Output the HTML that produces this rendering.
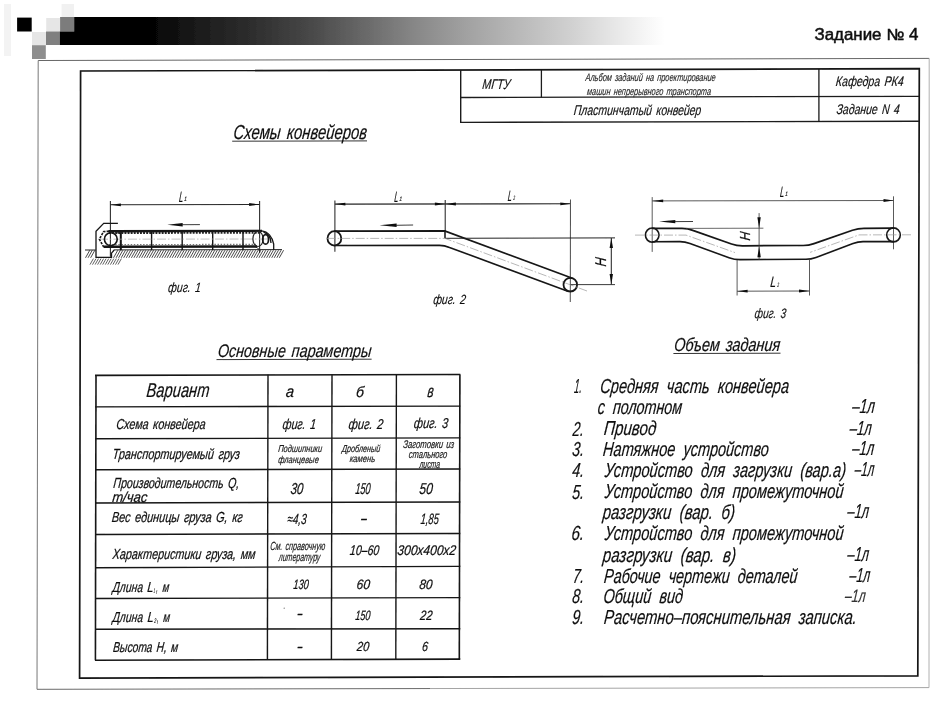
<!DOCTYPE html>
<html lang="ru">
<head>
<meta charset="utf-8">
<title>Задание № 4</title>
<style>
html,body{margin:0;padding:0;background:#fff;}
body{width:940px;height:701px;overflow:hidden;font-family:'Liberation Sans', sans-serif;}
svg{display:block;}
svg text{font-family:"Liberation Sans",sans-serif;white-space:pre;}
</style>
</head>
<body>
<svg width="940" height="701" viewBox="0 0 940 701">
<defs>
<linearGradient id="barg" gradientUnits="userSpaceOnUse" x1="60" y1="0" x2="665" y2="0">
<stop offset="0.000" stop-color="#000"/>
<stop offset="0.149" stop-color="#030303"/>
<stop offset="0.231" stop-color="#1c1c1c"/>
<stop offset="0.319" stop-color="#2e2e2e"/>
<stop offset="0.407" stop-color="#464646"/>
<stop offset="0.496" stop-color="#666666"/>
<stop offset="0.583" stop-color="#868686"/>
<stop offset="0.671" stop-color="#a1a1a1"/>
<stop offset="0.759" stop-color="#b9b9b9"/>
<stop offset="0.846" stop-color="#d1d1d1"/>
<stop offset="0.917" stop-color="#e7e7e7"/>
<stop offset="0.975" stop-color="#f8f8f8"/>
<stop offset="1.000" stop-color="#ffffff"/>
</linearGradient>
<filter id="soft" x="0" y="0" width="940" height="701" filterUnits="userSpaceOnUse"><feGaussianBlur stdDeviation="0.4"/></filter>
</defs>
<rect width="940" height="701" fill="#ffffff"/>
<g id="page" filter="url(#soft)">
<g id="shapes" stroke-linecap="butt">
<rect x="4" y="4" width="7.00" height="52.00" fill="#f3f3f3"/>
<rect x="61.6" y="4" width="12.40" height="13.00" fill="#f1f1f1"/>
<rect x="17.1" y="17.6" width="14.60" height="13.90" fill="#000"/>
<rect x="46.2" y="18" width="13.90" height="13.50" fill="#e6e6e6"/>
<rect x="60.1" y="17" width="14.10" height="14.50" fill="#7c7c7c"/>
<rect x="32" y="32" width="14.00" height="13.00" fill="#e6e6e6"/>
<rect x="46" y="31.5" width="13.80" height="13.50" fill="#808080"/>
<rect x="32" y="45.2" width="13.80" height="13.80" fill="#8e8e8e"/>
<path d="M74.2,17 L666,17 L666,44.9 L59.8,44.9 L59.8,31.5 L74.2,31.5 Z" fill="url(#barg)"/>
<line x1="38.20" y1="60.50" x2="929.20" y2="58.40" stroke="#666" stroke-width="1.0" />
<line x1="38.20" y1="60.50" x2="37.00" y2="689.30" stroke="#777" stroke-width="1.0" />
<line x1="37.00" y1="689.30" x2="430.00" y2="688.55" stroke="#6a6a6a" stroke-width="1.0" />
<line x1="430.00" y1="688.55" x2="929.00" y2="687.60" stroke="#a4a4a4" stroke-width="1.0" />
<line x1="929.20" y1="58.40" x2="929.00" y2="687.60" stroke="#b0b0b0" stroke-width="1.0" />
<polygon points="80.60,71.00 919.30,68.70 917.80,675.80 79.60,678.10" fill="none" stroke="#151515" stroke-width="1.7" />
<line x1="460.70" y1="70.00" x2="460.70" y2="122.40" stroke="#1a1a1a" stroke-width="1.4" />
<line x1="460.00" y1="97.50" x2="919.00" y2="96.30" stroke="#1a1a1a" stroke-width="1.3" />
<line x1="460.00" y1="122.40" x2="919.00" y2="121.20" stroke="#1a1a1a" stroke-width="1.4" />
<line x1="541.40" y1="69.80" x2="541.40" y2="97.30" stroke="#1a1a1a" stroke-width="1.3" />
<line x1="818.90" y1="69.00" x2="818.90" y2="121.50" stroke="#1a1a1a" stroke-width="1.3" />
<line x1="232.20" y1="141.20" x2="367.00" y2="140.90" stroke="#333" stroke-width="1.0" />
<line x1="216.50" y1="359.60" x2="371.60" y2="359.20" stroke="#333" stroke-width="1.0" />
<line x1="673.40" y1="353.50" x2="780.50" y2="353.20" stroke="#333" stroke-width="1.0" />
<line x1="110.40" y1="204.80" x2="259.60" y2="204.50" stroke="#262626" stroke-width="1.05" />
<line x1="110.40" y1="201.00" x2="110.40" y2="256.80" stroke="#262626" stroke-width="1.05" />
<line x1="259.60" y1="201.00" x2="259.60" y2="253.00" stroke="#262626" stroke-width="1.05" />
<polygon points="110.40,204.80 120.90,203.40 120.90,206.20" fill="#111"/>
<polygon points="259.60,204.50 249.10,205.90 249.10,203.10" fill="#111"/>
<polygon points="167.30,224.70 182.70,222.90 182.70,226.50" fill="#111"/>
<line x1="182.00" y1="224.70" x2="199.90" y2="224.60" stroke="#262626" stroke-width="0.9" />
<polyline points="117.90,223.40 103.70,223.40 96.00,231.30 96.00,257.40 111.50,257.40 111.50,253.20 114.20,250.00" fill="none" stroke="#151515" stroke-width="1.3" />
<line x1="108.50" y1="231.20" x2="262.00" y2="230.90" stroke="#151515" stroke-width="2.4" />
<line x1="109.00" y1="233.00" x2="261.00" y2="232.70" stroke="#222" stroke-width="2.0" stroke-dasharray="1.9 1.2"/>
<line x1="104.00" y1="246.70" x2="257.00" y2="246.50" stroke="#151515" stroke-width="2.6" />
<line x1="109.00" y1="244.60" x2="256.00" y2="244.40" stroke="#777" stroke-width="1.2" stroke-dasharray="1.5 1.6"/>
<line x1="85.00" y1="250.00" x2="96.00" y2="250.00" stroke="#262626" stroke-width="1.0" />
<line x1="114.00" y1="249.90" x2="282.00" y2="249.60" stroke="#262626" stroke-width="1.0" />
<line x1="120.80" y1="231.00" x2="120.80" y2="250.20" stroke="#151515" stroke-width="2.0" />
<line x1="151.60" y1="231.00" x2="151.60" y2="250.20" stroke="#151515" stroke-width="1.4" />
<line x1="182.20" y1="231.00" x2="182.20" y2="250.20" stroke="#151515" stroke-width="1.4" />
<line x1="212.70" y1="231.00" x2="212.70" y2="250.20" stroke="#151515" stroke-width="1.4" />
<line x1="243.00" y1="231.00" x2="243.00" y2="250.20" stroke="#151515" stroke-width="1.4" />
<line x1="99.00" y1="239.20" x2="271.00" y2="239.00" stroke="#a8a8a8" stroke-width="0.7" stroke-dasharray="9 2 1.5 2"/>
<circle cx="110.8" cy="239.2" r="6.4" fill="none" stroke="#151515" stroke-width="1.6"/>
<polyline points="109.00,231.20 103.60,231.60 99.30,239.20 103.60,246.80 109.00,246.60" fill="none" stroke="#151515" stroke-width="1.6" stroke-dasharray="2.4 1.1" stroke-linejoin="round"/>
<polyline points="120.80,232.50 116.50,233.00" fill="none" stroke="#262626" stroke-width="1.0" />
<ellipse cx="258.0" cy="238.9" rx="5.1" ry="7.6" fill="none" stroke="#222" stroke-width="1.2"/>
<ellipse cx="265.6" cy="239.4" rx="2.9" ry="4.8" fill="none" stroke="#151515" stroke-width="1.7"/>
<path d="M261.5,230.9 C268,231.5 272.6,237 273.7,244.2 L273.7,250" fill="none" stroke="#151515" stroke-width="1.3" />
<path d="M263.5,232.2 C268,233.6 270.8,237.5 271.0,243" fill="none" stroke="#151515" stroke-width="1.3" />
<path d="M255,246.6 L258.5,248.6 L259.8,252" fill="none" stroke="#262626" stroke-width="0.9" />
<path d="M85.5,257.8 L89.8,250.2 M88.0,257.8 L92.3,250.2 M90.6,257.8 L94.9,250.2 M113.5,257.8 L117.8,250.2 M116.1,257.8 L120.4,250.2 M118.6,257.8 L122.9,250.2 M121.2,257.8 L125.5,250.2 M123.7,257.8 L128.0,250.2 M126.3,257.8 L130.6,250.2 M128.8,257.8 L133.1,250.2 M131.4,257.8 L135.7,250.2 M133.9,257.8 L138.2,250.2 M136.5,257.8 L140.8,250.2 M139.1,257.8 L143.4,250.2 M141.6,257.8 L145.9,250.2 M144.2,257.8 L148.5,250.2 M146.7,257.8 L151.0,250.2 M149.3,257.8 L153.6,250.2 M151.8,257.8 L156.1,250.2 M154.4,257.8 L158.7,250.2 M156.9,257.8 L161.2,250.2 M159.5,257.8 L163.8,250.2 M162.0,257.8 L166.3,250.2 M164.6,257.8 L168.9,250.2 M167.1,257.8 L171.4,250.2 M169.7,257.8 L174.0,250.2 M172.2,257.8 L176.5,250.2 M174.8,257.8 L179.1,250.2 M177.3,257.8 L181.6,250.2 M179.9,257.8 L184.2,250.2 M182.4,257.8 L186.7,250.2 M185.0,257.8 L189.3,250.2 M187.5,257.8 L191.8,250.2 M190.1,257.8 L194.4,250.2 M192.6,257.8 L196.9,250.2 M195.2,257.8 L199.5,250.2 M197.7,257.8 L202.0,250.2 M200.3,257.8 L204.6,250.2 M202.8,257.8 L207.1,250.2 M205.4,257.8 L209.7,250.2 M207.9,257.8 L212.2,250.2 M210.5,257.8 L214.8,250.2 M213.0,257.8 L217.3,250.2 M215.6,257.8 L219.9,250.2 M218.1,257.8 L222.4,250.2 M220.7,257.8 L225.0,250.2 M223.2,257.8 L227.5,250.2 M225.8,257.8 L230.1,250.2 M228.3,257.8 L232.6,250.2 M230.9,257.8 L235.2,250.2 M233.4,257.8 L237.7,250.2 M236.0,257.8 L240.3,250.2 M238.5,257.8 L242.8,250.2 M241.1,257.8 L245.4,250.2 M243.6,257.8 L247.9,250.2 M246.2,257.8 L250.5,250.2 M248.7,257.8 L253.0,250.2 M251.3,257.8 L255.6,250.2 M253.8,257.8 L258.1,250.2 M256.4,257.8 L260.7,250.2 M258.9,257.8 L263.2,250.2 M261.5,257.8 L265.8,250.2 M264.0,257.8 L268.3,250.2 M266.6,257.8 L270.9,250.2 M269.1,257.8 L273.4,250.2 M271.7,257.8 L276.0,250.2 M274.2,257.8 L278.5,250.2 M276.8,257.8 L281.1,250.2 M279.3,257.8 L283.6,250.2" fill="none" stroke="#2a2a2a" stroke-width="0.85" />
<path d="M90.0,264.6 L93.4,258.6 M92.5,264.6 L96.0,258.6 M95.1,264.6 L98.5,258.6 M97.6,264.6 L101.0,258.6 M100.2,264.6 L103.6,258.6 M102.7,264.6 L106.1,258.6 M105.3,264.6 L108.7,258.6 M107.8,264.6 L111.2,258.6 M110.4,264.6 L113.8,258.6 M112.9,264.6 L116.3,258.6 M115.5,264.6 L118.9,258.6 M118.0,264.6 L121.4,258.6" fill="none" stroke="#3a3a3a" stroke-width="0.8" />
<line x1="334.90" y1="204.10" x2="570.80" y2="203.80" stroke="#262626" stroke-width="1.05" />
<line x1="334.90" y1="200.40" x2="334.90" y2="251.80" stroke="#262626" stroke-width="1.05" />
<line x1="445.20" y1="200.00" x2="445.20" y2="231.00" stroke="#262626" stroke-width="1.05" />
<line x1="570.50" y1="199.60" x2="570.30" y2="302.00" stroke="#555" stroke-width="1.05" />
<polygon points="334.90,204.10 345.40,202.70 345.40,205.50" fill="#111"/>
<polygon points="445.40,204.00 434.90,205.40 434.90,202.60" fill="#111"/>
<polygon points="445.40,204.00 455.90,202.60 455.90,205.40" fill="#111"/>
<polygon points="570.80,203.80 560.30,205.20 560.30,202.40" fill="#111"/>
<polygon points="379.60,225.30 396.60,223.50 396.60,227.10" fill="#111"/>
<line x1="396.00" y1="225.30" x2="413.10" y2="225.00" stroke="#262626" stroke-width="0.9" />
<ellipse cx="334.4" cy="238.4" rx="6.9" ry="7.2" fill="none" stroke="#151515" stroke-width="1.8"/>
<path d="M334.4,231.2 L444.6,230.9 L572.4,278.3" fill="none" stroke="#151515" stroke-width="1.7" stroke-linejoin="miter"/>
<path d="M334.4,245.5 L439.5,245.4 Q444.5,245.4 449.5,247.4 L567.8,291.2" fill="none" stroke="#151515" stroke-width="1.6" />
<line x1="445.00" y1="230.50" x2="445.00" y2="238.30" stroke="#151515" stroke-width="1.5" />
<line x1="445.00" y1="238.30" x2="615.00" y2="237.90" stroke="#222" stroke-width="1.0" />
<circle cx="570.3" cy="284.7" r="6.8" fill="none" stroke="#151515" stroke-width="1.8"/>
<path d="M326.7,238.4 L445,238.4 L587,291" fill="none" stroke="#999" stroke-width="0.7" stroke-dasharray="9 2 1.5 2"/>
<line x1="570.50" y1="284.60" x2="615.00" y2="284.60" stroke="#262626" stroke-width="0.9" />
<line x1="611.30" y1="238.00" x2="611.30" y2="284.60" stroke="#262626" stroke-width="1.05" />
<polygon points="611.30,237.90 613.00,247.90 609.60,247.90" fill="#111"/>
<polygon points="611.30,284.60 609.60,274.10 613.00,274.10" fill="#111"/>
<line x1="652.20" y1="200.90" x2="893.50" y2="200.50" stroke="#3c3c3c" stroke-width="0.85" />
<line x1="652.20" y1="197.10" x2="652.20" y2="251.90" stroke="#3c3c3c" stroke-width="0.85" />
<line x1="893.50" y1="196.30" x2="893.50" y2="249.30" stroke="#3c3c3c" stroke-width="0.85" />
<polygon points="652.20,200.90 663.20,199.50 663.20,202.30" fill="#111"/>
<polygon points="893.50,200.50 883.50,201.90 883.50,199.10" fill="#111"/>
<polygon points="659.10,221.60 675.30,219.90 675.30,223.30" fill="#111"/>
<line x1="675.00" y1="221.60" x2="693.00" y2="221.50" stroke="#262626" stroke-width="0.9" />
<ellipse cx="652.2" cy="235.1" rx="6.8" ry="7.1" fill="none" stroke="#151515" stroke-width="1.6"/>
<ellipse cx="893.5" cy="234.9" rx="6.8" ry="7.0" fill="none" stroke="#151515" stroke-width="1.6"/>
<path d="M652.2,228.4 L682,228.4 Q688,228.4 693.5,230.6 L731.5,244.0 Q737,245.9 743,245.8 L803,245.5 Q808.5,245.5 814,243.6 L852.5,230.3 Q858,228.4 864,228.3 L893.5,228.2" fill="none" stroke="#151515" stroke-width="1.7" />
<path d="M652.2,241.7 L680,241.6 Q685,241.6 690,243.4 L729,257.7 Q734.4,259.6 740,259.6 L806,259.3 Q811,259.3 816,257.5 L853,243.5 Q858,241.7 863,241.6 L893.5,241.6" fill="none" stroke="#151515" stroke-width="1.6" />
<path d="M635,235.1 L686,235.1 L735,252.6" fill="none" stroke="#999" stroke-width="0.7" stroke-dasharray="9 2 1.5 2"/>
<path d="M911,234.8 L859,234.9 L810,252.4" fill="none" stroke="#999" stroke-width="0.7" stroke-dasharray="9 2 1.5 2"/>
<line x1="686.00" y1="228.40" x2="763.40" y2="228.20" stroke="#444" stroke-width="0.8" />
<line x1="759.10" y1="213.10" x2="759.10" y2="260.00" stroke="#3c3c3c" stroke-width="0.85" />
<polygon points="759.10,228.20 757.40,217.20 760.80,217.20" fill="#111"/>
<polygon points="759.10,246.20 760.80,257.20 757.40,257.20" fill="#111"/>
<line x1="737.10" y1="259.80" x2="737.10" y2="295.50" stroke="#3c3c3c" stroke-width="0.85" />
<line x1="809.50" y1="259.60" x2="809.50" y2="295.50" stroke="#3c3c3c" stroke-width="0.85" />
<line x1="737.10" y1="291.20" x2="809.50" y2="291.00" stroke="#3c3c3c" stroke-width="0.85" />
<polygon points="737.10,291.20 747.60,289.80 747.60,292.60" fill="#111"/>
<polygon points="809.50,291.00 799.00,292.40 799.00,289.60" fill="#111"/>
<line x1="95.00" y1="375.40" x2="460.30" y2="374.50" stroke="#151515" stroke-width="1.6" />
<line x1="95.00" y1="406.90" x2="460.30" y2="406.10" stroke="#151515" stroke-width="1.4" />
<line x1="95.00" y1="438.80" x2="460.30" y2="437.90" stroke="#151515" stroke-width="1.4" />
<line x1="95.00" y1="469.80" x2="460.30" y2="469.00" stroke="#151515" stroke-width="1.4" />
<line x1="95.00" y1="503.00" x2="460.30" y2="502.00" stroke="#151515" stroke-width="1.4" />
<line x1="95.00" y1="534.50" x2="460.30" y2="533.50" stroke="#151515" stroke-width="1.4" />
<line x1="95.00" y1="567.70" x2="460.30" y2="566.40" stroke="#151515" stroke-width="1.4" />
<line x1="95.00" y1="598.50" x2="460.30" y2="597.60" stroke="#151515" stroke-width="1.4" />
<line x1="95.00" y1="629.30" x2="460.30" y2="628.70" stroke="#151515" stroke-width="1.4" />
<line x1="95.00" y1="660.20" x2="460.30" y2="659.10" stroke="#151515" stroke-width="1.6" />
<line x1="96.00" y1="375.40" x2="95.40" y2="660.20" stroke="#151515" stroke-width="1.6" />
<line x1="268.00" y1="374.50" x2="267.40" y2="659.10" stroke="#151515" stroke-width="1.4" />
<line x1="332.00" y1="374.50" x2="331.40" y2="659.10" stroke="#151515" stroke-width="1.4" />
<line x1="396.40" y1="374.50" x2="395.80" y2="659.10" stroke="#151515" stroke-width="1.4" />
<line x1="459.90" y1="374.50" x2="459.30" y2="659.10" stroke="#151515" stroke-width="1.6" />
<circle cx="284.2" cy="608.2" r="0.6" fill="#666"/>
</g>
<g id="labels">
<text transform="translate(814.50,39.80) scale(1.0566,1)" font-size="16" stroke="#111" stroke-width="0.5" fill="#111">Задание № 4</text>
<text transform="translate(482.00,88.60) skewX(-5.5) scale(0.7570,1)" font-size="14.11" font-style="italic" word-spacing="1.98" stroke="#101010" stroke-width="0.18" fill="#101010">МГТУ</text>
<text transform="translate(585.28,80.70) skewX(-5.5) scale(0.6787,1)" font-size="10.89" font-style="italic" word-spacing="1.52" stroke="#222" stroke-width="0.12" fill="#222">Альбом заданий на проектирование</text>
<text transform="translate(586.80,95.00) skewX(-5.5) scale(0.6799,1)" font-size="10.89" font-style="italic" word-spacing="1.52" stroke="#222" stroke-width="0.12" fill="#222">машин непрерывного транспорта</text>
<text transform="translate(573.50,114.80) skewX(-5.5) scale(0.7337,1)" font-size="14.25" font-style="italic" word-spacing="2.00" stroke="#101010" stroke-width="0.18" fill="#101010">Пластинчатый конвейер</text>
<text transform="translate(835.60,86.10) skewX(-5.5) scale(0.7533,1)" font-size="13.97" font-style="italic" word-spacing="1.96" stroke="#101010" stroke-width="0.18" fill="#101010">Кафедра РК4</text>
<text transform="translate(836.20,114.00) skewX(-5.5) scale(0.7470,1)" font-size="13.97" font-style="italic" word-spacing="1.96" stroke="#101010" stroke-width="0.18" fill="#101010">Задание N 4</text>
<text transform="translate(233.06,138.50) skewX(-5.5) scale(0.7397,1)" font-size="20.11" font-style="italic" word-spacing="2.82" stroke="#101010" stroke-width="0.2" fill="#101010">Схемы конвейеров</text>
<text transform="translate(217.40,356.80) skewX(-5.5) scale(0.7887,1)" font-size="18.16" font-style="italic" word-spacing="2.54" stroke="#101010" stroke-width="0.2" fill="#101010">Основные параметры</text>
<text transform="translate(673.63,351.10) skewX(-5.5) scale(0.7741,1)" font-size="18.72" font-style="italic" word-spacing="2.62" stroke="#101010" stroke-width="0.2" fill="#101010">Объем задания</text>
<text transform="translate(178.80,201.60) skewX(-5.5) scale(0.5054,1)" font-size="14.8" font-style="italic" word-spacing="2.07" stroke="#101010" stroke-width="0.2" fill="#101010">L</text>
<text transform="translate(184.10,201.00) skewX(-5.5) scale(0.7495,1)" font-size="6.28" font-style="italic" word-spacing="0.88" stroke="#222" stroke-width="0.2" fill="#222">1</text>
<text transform="translate(167.80,291.70) skewX(-5.5) scale(0.7832,1)" font-size="13.41" font-style="italic" word-spacing="1.88" stroke="#101010" stroke-width="0.15" fill="#101010">фиг. 1</text>
<text transform="translate(394.00,201.50) skewX(-5.5) scale(0.4929,1)" font-size="14.8" font-style="italic" word-spacing="2.07" stroke="#101010" stroke-width="0.2" fill="#101010">L</text>
<text transform="translate(399.20,200.90) skewX(-5.5) scale(0.7495,1)" font-size="6.28" font-style="italic" word-spacing="0.88" stroke="#222" stroke-width="0.2" fill="#222">1</text>
<text transform="translate(507.60,200.80) skewX(-5.5) scale(0.4929,1)" font-size="14.8" font-style="italic" word-spacing="2.07" stroke="#101010" stroke-width="0.2" fill="#101010">L</text>
<text transform="translate(513.25,200.20) skewX(-5.5) scale(0.4497,1)" font-size="6.28" font-style="italic" word-spacing="0.88" stroke="#222" stroke-width="0.2" fill="#222">2</text>
<text transform="translate(600.20,262.10) rotate(-90) translate(-4.70,5.60) skewX(-5.5) scale(0.7833,1)" font-size="15.64" font-style="italic" word-spacing="2.19" stroke="#101010" stroke-width="0.24" fill="#101010">H</text>
<text transform="translate(432.90,303.90) skewX(-5.5) scale(0.7789,1)" font-size="13.41" font-style="italic" word-spacing="1.88" stroke="#101010" stroke-width="0.15" fill="#101010">фиг. 2</text>
<text transform="translate(779.70,196.90) skewX(-5.5) scale(0.5054,1)" font-size="14.8" font-style="italic" word-spacing="2.07" stroke="#101010" stroke-width="0.2" fill="#101010">L</text>
<text transform="translate(785.00,196.30) skewX(-5.5) scale(0.7495,1)" font-size="6.28" font-style="italic" word-spacing="0.88" stroke="#222" stroke-width="0.2" fill="#222">1</text>
<text transform="translate(744.60,236.30) rotate(-90) translate(-4.50,5.20) skewX(-5.5) scale(0.8182,1)" font-size="14.53" font-style="italic" word-spacing="2.03" stroke="#101010" stroke-width="0.24" fill="#101010">H</text>
<text transform="translate(770.00,287.30) skewX(-5.5) scale(0.6929,1)" font-size="14.8" font-style="italic" word-spacing="2.07" stroke="#101010" stroke-width="0.2" fill="#101010">L</text>
<text transform="translate(777.25,286.70) skewX(-5.5) scale(0.4497,1)" font-size="6.28" font-style="italic" word-spacing="0.88" stroke="#222" stroke-width="0.2" fill="#222">2</text>
<text transform="translate(754.30,318.20) skewX(-5.5) scale(0.7334,1)" font-size="13.69" font-style="italic" word-spacing="1.92" stroke="#101010" stroke-width="0.15" fill="#101010">фиг. 3</text>
<text transform="translate(146.00,397.00) skewX(-5.5) scale(0.7336,1)" font-size="20.11" font-style="italic" word-spacing="2.82" stroke="#101010" stroke-width="0.2" fill="#101010">Вариант</text>
<text transform="translate(285.50,396.70) skewX(-5.5) scale(0.9010,1)" font-size="16.2" font-style="italic" word-spacing="2.27" stroke="#101010" stroke-width="0.24" fill="#101010">а</text>
<text transform="translate(355.70,396.70) skewX(-5.5) scale(0.9151,1)" font-size="15.08" font-style="italic" word-spacing="2.11" stroke="#101010" stroke-width="0.24" fill="#101010">б</text>
<text transform="translate(427.00,396.70) skewX(-5.5) scale(0.6861,1)" font-size="17.6" font-style="italic" word-spacing="2.46" stroke="#101010" stroke-width="0.2" fill="#101010">в</text>
<text transform="translate(116.00,429.20) skewX(-5.5) scale(0.7495,1)" font-size="14.39" font-style="italic" word-spacing="2.01" stroke="#101010" stroke-width="0.24" fill="#101010">Схема конвейера</text>
<text transform="translate(282.30,428.60) skewX(-5.5) scale(0.7461,1)" font-size="14.25" font-style="italic" word-spacing="2.00" stroke="#101010" stroke-width="0.24" fill="#101010">фиг. 1</text>
<text transform="translate(348.30,428.60) skewX(-5.5) scale(0.7763,1)" font-size="14.25" font-style="italic" word-spacing="2.00" stroke="#101010" stroke-width="0.24" fill="#101010">фиг. 2</text>
<text transform="translate(413.60,428.40) skewX(-5.5) scale(0.7674,1)" font-size="14.25" font-style="italic" word-spacing="2.00" stroke="#101010" stroke-width="0.24" fill="#101010">фиг. 3</text>
<text transform="translate(112.16,459.30) skewX(-5.5) scale(0.7415,1)" font-size="14.66" font-style="italic" word-spacing="2.05" stroke="#101010" stroke-width="0.24" fill="#101010">Транспортируемый груз</text>
<text transform="translate(277.90,452.30) skewX(-5.5) scale(0.7442,1)" font-size="10.06" font-style="italic" word-spacing="1.41" stroke="#1c1c1c" stroke-width="0.2" fill="#1c1c1c">Подшипники</text>
<text transform="translate(277.90,463.00) skewX(-5.5) scale(0.7475,1)" font-size="10.06" font-style="italic" word-spacing="1.41" stroke="#1c1c1c" stroke-width="0.2" fill="#1c1c1c">фланцевые</text>
<text transform="translate(341.72,452.30) skewX(-5.5) scale(0.7175,1)" font-size="10.06" font-style="italic" word-spacing="1.41" stroke="#1c1c1c" stroke-width="0.2" fill="#1c1c1c">Дробленый</text>
<text transform="translate(349.40,462.40) skewX(-5.5) scale(0.7607,1)" font-size="10.06" font-style="italic" word-spacing="1.41" stroke="#1c1c1c" stroke-width="0.2" fill="#1c1c1c">камень</text>
<text transform="translate(403.00,447.90) skewX(-5.5) scale(0.6933,1)" font-size="11.17" font-style="italic" word-spacing="1.56" stroke="#1c1c1c" stroke-width="0.2" fill="#1c1c1c">Заготовки из</text>
<text transform="translate(408.60,458.00) skewX(-5.5) scale(0.6760,1)" font-size="11.17" font-style="italic" word-spacing="1.56" stroke="#1c1c1c" stroke-width="0.2" fill="#1c1c1c">стального</text>
<text transform="translate(419.21,468.40) skewX(-5.5) scale(0.6142,1)" font-size="11.17" font-style="italic" word-spacing="1.56" stroke="#1c1c1c" stroke-width="0.2" fill="#1c1c1c">листа</text>
<text transform="translate(113.00,487.60) skewX(-5.5) scale(0.7215,1)" font-size="14.66" font-style="italic" word-spacing="2.05" stroke="#101010" stroke-width="0.24" fill="#101010">Производительность Q,</text>
<text transform="translate(112.00,502.00) skewX(-5.5) scale(0.8977,1)" font-size="14.53" font-style="italic" word-spacing="2.03" stroke="#101010" stroke-width="0.24" fill="#101010">т/час</text>
<text transform="translate(290.20,493.80) skewX(-5.5) scale(0.7271,1)" font-size="15.78" font-style="italic" word-spacing="2.21" stroke="#101010" stroke-width="0.24" fill="#101010">30</text>
<text transform="translate(355.00,493.80) skewX(-5.5) scale(0.5773,1)" font-size="15.78" font-style="italic" word-spacing="2.21" stroke="#101010" stroke-width="0.24" fill="#101010">150</text>
<text transform="translate(419.00,493.60) skewX(-5.5) scale(0.7609,1)" font-size="15.78" font-style="italic" word-spacing="2.21" stroke="#101010" stroke-width="0.24" fill="#101010">50</text>
<text transform="translate(111.50,522.10) skewX(-5.5) scale(0.7526,1)" font-size="14.53" font-style="italic" word-spacing="2.03" stroke="#101010" stroke-width="0.24" fill="#101010">Вес единицы груза G, кг</text>
<text transform="translate(287.00,524.20) skewX(-5.5) scale(0.6815,1)" font-size="14.66" font-style="italic" word-spacing="2.05" stroke="#101010" stroke-width="0.24" fill="#101010">≈4,3</text>
<text transform="translate(360.88,523.30) skewX(-5.5) scale(0.6848,1)" font-size="13.97" font-style="italic" word-spacing="1.96" stroke="#101010" stroke-width="0.6" fill="#101010">–</text>
<text transform="translate(420.20,524.00) skewX(-5.5) scale(0.6220,1)" font-size="15.08" font-style="italic" word-spacing="2.11" stroke="#101010" stroke-width="0.24" fill="#101010">1,85</text>
<text transform="translate(112.24,559.10) skewX(-5.5) scale(0.7362,1)" font-size="14.66" font-style="italic" word-spacing="2.05" stroke="#101010" stroke-width="0.24" fill="#101010">Характеристики груза, мм</text>
<text transform="translate(270.00,549.80) skewX(-5.5) scale(0.6100,1)" font-size="11.87" font-style="italic" word-spacing="1.66" stroke="#1c1c1c" stroke-width="0.2" fill="#1c1c1c">См. справочную</text>
<text transform="translate(278.49,560.80) skewX(-5.5) scale(0.5889,1)" font-size="11.87" font-style="italic" word-spacing="1.66" stroke="#1c1c1c" stroke-width="0.2" fill="#1c1c1c">литературу</text>
<text transform="translate(349.60,555.00) skewX(-5.5) scale(0.7479,1)" font-size="14.11" font-style="italic" word-spacing="1.98" stroke="#101010" stroke-width="0.24" fill="#101010">10–60</text>
<text transform="translate(397.10,554.80) skewX(-5.5) scale(0.8507,1)" font-size="14.11" font-style="italic" word-spacing="1.98" stroke="#101010" stroke-width="0.24" fill="#101010">300x400x2</text>
<text transform="translate(112.34,592.30) skewX(-5.5) scale(0.7195,1)" font-size="14.39" font-style="italic" word-spacing="2.01" stroke="#101010" stroke-width="0.24" fill="#101010">Длина</text>
<text transform="translate(146.90,592.30) skewX(-5.5) scale(0.7647,1)" font-size="14.39" font-style="italic" word-spacing="2.01" stroke="#101010" stroke-width="0.24" fill="#101010">L</text>
<text transform="translate(153.60,593.30) skewX(-5.5) scale(0.3846,1)" font-size="6.7" font-style="italic" word-spacing="0.94" stroke="#101010" stroke-width="0.2" fill="#101010">1</text>
<text transform="translate(156.30,592.30) skewX(-5.5) scale(0.3333,1)" font-size="14.39" font-style="italic" word-spacing="2.01" stroke="#101010" stroke-width="0.24" fill="#101010">,</text>
<text transform="translate(162.30,592.30) skewX(-5.5) scale(0.6653,1)" font-size="14.39" font-style="italic" word-spacing="2.01" stroke="#101010" stroke-width="0.24" fill="#101010">м</text>
<text transform="translate(293.10,588.80) skewX(-5.5) scale(0.6794,1)" font-size="13.55" font-style="italic" word-spacing="1.90" stroke="#101010" stroke-width="0.24" fill="#101010">130</text>
<text transform="translate(356.20,588.80) skewX(-5.5) scale(0.8866,1)" font-size="13.55" font-style="italic" word-spacing="1.90" stroke="#101010" stroke-width="0.24" fill="#101010">60</text>
<text transform="translate(419.00,588.60) skewX(-5.5) scale(0.8738,1)" font-size="13.55" font-style="italic" word-spacing="1.90" stroke="#101010" stroke-width="0.24" fill="#101010">80</text>
<text transform="translate(112.34,622.00) skewX(-5.5) scale(0.7195,1)" font-size="14.39" font-style="italic" word-spacing="2.01" stroke="#101010" stroke-width="0.24" fill="#101010">Длина</text>
<text transform="translate(147.20,622.00) skewX(-5.5) scale(0.7647,1)" font-size="14.39" font-style="italic" word-spacing="2.01" stroke="#101010" stroke-width="0.24" fill="#101010">L</text>
<text transform="translate(154.05,623.00) skewX(-5.5) scale(0.5477,1)" font-size="6.7" font-style="italic" word-spacing="0.94" stroke="#101010" stroke-width="0.2" fill="#101010">2</text>
<text transform="translate(156.90,622.00) skewX(-5.5) scale(0.3333,1)" font-size="14.39" font-style="italic" word-spacing="2.01" stroke="#101010" stroke-width="0.24" fill="#101010">,</text>
<text transform="translate(162.90,622.00) skewX(-5.5) scale(0.6753,1)" font-size="14.39" font-style="italic" word-spacing="2.01" stroke="#101010" stroke-width="0.24" fill="#101010">м</text>
<text transform="translate(297.56,618.20) skewX(-5.5) scale(0.5625,1)" font-size="13.97" font-style="italic" word-spacing="1.96" stroke="#101010" stroke-width="0.6" fill="#101010">–</text>
<text transform="translate(355.00,620.10) skewX(-5.5) scale(0.6664,1)" font-size="13.55" font-style="italic" word-spacing="1.90" stroke="#101010" stroke-width="0.24" fill="#101010">150</text>
<text transform="translate(419.81,619.90) skewX(-5.5) scale(0.8149,1)" font-size="13.55" font-style="italic" word-spacing="1.90" stroke="#101010" stroke-width="0.24" fill="#101010">22</text>
<text transform="translate(112.80,651.50) skewX(-5.5) scale(0.7117,1)" font-size="14.39" font-style="italic" word-spacing="2.01" stroke="#101010" stroke-width="0.24" fill="#101010">Высота H, м</text>
<text transform="translate(297.56,651.00) skewX(-5.5) scale(0.5625,1)" font-size="13.97" font-style="italic" word-spacing="1.96" stroke="#101010" stroke-width="0.6" fill="#101010">–</text>
<text transform="translate(356.54,650.80) skewX(-5.5) scale(0.8353,1)" font-size="13.27" font-style="italic" word-spacing="1.86" stroke="#101010" stroke-width="0.24" fill="#101010">20</text>
<text transform="translate(421.80,650.60) skewX(-5.5) scale(0.7975,1)" font-size="13.27" font-style="italic" word-spacing="1.86" stroke="#101010" stroke-width="0.24" fill="#101010">6</text>
<text transform="translate(573.80,392.80) skewX(-5.5) scale(0.4594,1)" font-size="20.25" font-style="italic" word-spacing="2.84" stroke="#101010" stroke-width="0.2" fill="#101010">1.</text>
<text transform="translate(599.68,392.60) skewX(-5.5) scale(0.7235,1)" font-size="20.25" font-style="italic" word-spacing="5.67" stroke="#101010" stroke-width="0.2" fill="#101010">Средняя часть конвейера</text>
<text transform="translate(597.20,413.60) skewX(-5.5) scale(0.7090,1)" font-size="20.25" font-style="italic" word-spacing="5.67" stroke="#101010" stroke-width="0.2" fill="#101010">с полотном</text>
<text transform="translate(851.67,413.00) skewX(-5.5) scale(0.6665,1)" font-size="20.25" font-style="italic" word-spacing="2.84" stroke="#101010" stroke-width="0.2" fill="#101010">–1л</text>
<text transform="translate(572.36,435.60) skewX(-5.5) scale(0.6648,1)" font-size="20.25" font-style="italic" word-spacing="2.84" stroke="#101010" stroke-width="0.2" fill="#101010">2.</text>
<text transform="translate(603.40,435.40) skewX(-5.5) scale(0.7518,1)" font-size="20.25" font-style="italic" word-spacing="2.84" stroke="#101010" stroke-width="0.2" fill="#101010">Привод</text>
<text transform="translate(849.15,434.70) skewX(-5.5) scale(0.6520,1)" font-size="20.25" font-style="italic" word-spacing="2.84" stroke="#101010" stroke-width="0.2" fill="#101010">–1л</text>
<text transform="translate(571.70,456.00) skewX(-5.5) scale(0.7084,1)" font-size="20.25" font-style="italic" word-spacing="2.84" stroke="#101010" stroke-width="0.2" fill="#101010">3.</text>
<text transform="translate(602.60,456.00) skewX(-5.5) scale(0.7168,1)" font-size="20.25" font-style="italic" word-spacing="5.67" stroke="#101010" stroke-width="0.2" fill="#101010">Натяжное устройство</text>
<text transform="translate(851.65,455.10) skewX(-5.5) scale(0.6520,1)" font-size="20.25" font-style="italic" word-spacing="2.84" stroke="#101010" stroke-width="0.2" fill="#101010">–1л</text>
<text transform="translate(571.70,477.20) skewX(-5.5) scale(0.7084,1)" font-size="20.25" font-style="italic" word-spacing="2.84" stroke="#101010" stroke-width="0.2" fill="#101010">4.</text>
<text transform="translate(604.32,477.00) skewX(-5.5) scale(0.7247,1)" font-size="20.25" font-style="italic" word-spacing="5.67" stroke="#101010" stroke-width="0.2" fill="#101010">Устройство для загрузки (вар.а)</text>
<text transform="translate(854.37,476.40) skewX(-5.5) scale(0.5709,1)" font-size="20.25" font-style="italic" word-spacing="2.84" stroke="#101010" stroke-width="0.2" fill="#101010">–1л</text>
<text transform="translate(571.70,498.50) skewX(-5.5) scale(0.7084,1)" font-size="20.25" font-style="italic" word-spacing="2.84" stroke="#101010" stroke-width="0.2" fill="#101010">5.</text>
<text transform="translate(604.32,498.20) skewX(-5.5) scale(0.7210,1)" font-size="20.25" font-style="italic" word-spacing="5.67" stroke="#101010" stroke-width="0.2" fill="#101010">Устройство для промежуточной</text>
<text transform="translate(602.24,519.40) skewX(-5.5) scale(0.7426,1)" font-size="20.25" font-style="italic" word-spacing="5.67" stroke="#101010" stroke-width="0.2" fill="#101010">разгрузки (вар. б)</text>
<text transform="translate(847.03,517.90) skewX(-5.5) scale(0.6318,1)" font-size="20.25" font-style="italic" word-spacing="2.84" stroke="#101010" stroke-width="0.2" fill="#101010">–1л</text>
<text transform="translate(570.94,540.20) skewX(-5.5) scale(0.7580,1)" font-size="20.25" font-style="italic" word-spacing="2.84" stroke="#101010" stroke-width="0.2" fill="#101010">6.</text>
<text transform="translate(604.32,539.90) skewX(-5.5) scale(0.7210,1)" font-size="20.25" font-style="italic" word-spacing="5.67" stroke="#101010" stroke-width="0.2" fill="#101010">Устройство для промежуточной</text>
<text transform="translate(602.25,561.90) skewX(-5.5) scale(0.7517,1)" font-size="20.25" font-style="italic" word-spacing="5.67" stroke="#101010" stroke-width="0.2" fill="#101010">разгрузки (вар. в)</text>
<text transform="translate(847.03,560.90) skewX(-5.5) scale(0.6318,1)" font-size="20.25" font-style="italic" word-spacing="2.84" stroke="#101010" stroke-width="0.2" fill="#101010">–1л</text>
<text transform="translate(572.49,582.80) skewX(-5.5) scale(0.6569,1)" font-size="20.25" font-style="italic" word-spacing="2.84" stroke="#101010" stroke-width="0.2" fill="#101010">7.</text>
<text transform="translate(603.60,582.60) skewX(-5.5) scale(0.7112,1)" font-size="20.25" font-style="italic" word-spacing="5.67" stroke="#101010" stroke-width="0.2" fill="#101010">Рабочие чертежи деталей</text>
<text transform="translate(849.10,582.10) skewX(-5.5) scale(0.6028,1)" font-size="20.25" font-style="italic" word-spacing="2.84" stroke="#101010" stroke-width="0.2" fill="#101010">–1л</text>
<text transform="translate(571.70,603.40) skewX(-5.5) scale(0.7084,1)" font-size="20.25" font-style="italic" word-spacing="2.84" stroke="#101010" stroke-width="0.2" fill="#101010">8.</text>
<text transform="translate(602.88,603.40) skewX(-5.5) scale(0.7172,1)" font-size="20.25" font-style="italic" word-spacing="5.67" stroke="#101010" stroke-width="0.2" fill="#101010">Общий вид</text>
<text transform="translate(844.48,602.30) skewX(-5.5) scale(0.6816,1)" font-size="18.16" font-style="italic" word-spacing="2.54" stroke="#333" stroke-width="0.2" fill="#333">–1л</text>
<text transform="translate(571.70,624.30) skewX(-5.5) scale(0.7084,1)" font-size="20.25" font-style="italic" word-spacing="2.84" stroke="#101010" stroke-width="0.2" fill="#101010">9.</text>
<text transform="translate(603.60,624.00) skewX(-5.5) scale(0.7340,1)" font-size="20.25" font-style="italic" word-spacing="5.67" stroke="#101010" stroke-width="0.2" fill="#101010">Расчетно–пояснительная записка.</text>
</g>
</g>
</svg>
</body>
</html>
